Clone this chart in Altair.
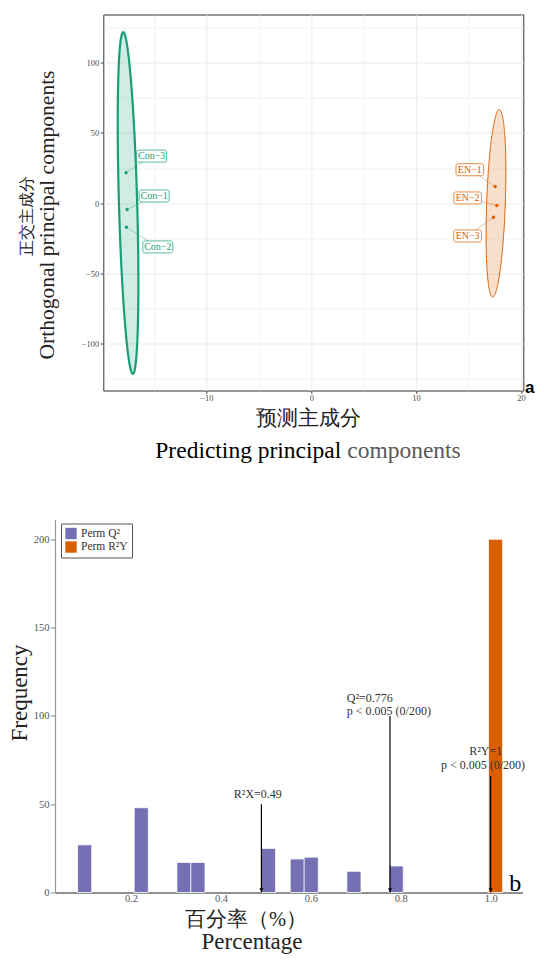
import altair as alt
import numpy as np
import pandas as pd

SERIF = "Liberation Serif"
GREEN = "#1B9E77"
ORANGE = "#D95F02"
PURPLE = "#7570B3"

# ---------------- panel a data ----------------
sample_label = ["Con−1", "Con−2", "Con−3", "EN−1", "EN−2", "EN−3"]
sample_group = ["Con", "Con", "Con", "EN", "EN", "EN"]
pred_comp = [-17.56, -17.63, -17.66, 17.54, 17.70, 17.38]
orth_comp = [-4.5, -17.2, 21.6, 11.9, -1.7, -10.0]
label_pred = [-14.98, -14.63, -15.22, 15.12, 14.91, 14.91]
label_orth = [5.1, -31.2, 33.5, 23.8, 3.7, -23.4]

ellipse_group = ["Con", "EN"]
ellipse_center_x = [-17.47, 17.615]
ellipse_center_y = [0.1, -0.1]
ellipse_major_x = [-0.46, 0.315]
ellipse_major_y = [121.7, 66.8]
ellipse_minor_x = [0.87, 0.89]

x_ticks_a = [-15, -10, -5, 0, 5, 10, 15, 20]
y_ticks_a = [-125, -100, -75, -50, -25, 0, 25, 50, 75, 100, 125]

# ---------------- panel b data ----------------
series_names = ["Perm Q²", "Perm R²Y"]
q2_bin_start = [0.081, 0.207, 0.302, 0.333, 0.490, 0.554, 0.585, 0.680, 0.774]
q2_count = [27, 48, 17, 17, 25, 19, 20, 12, 15]
r2y_bin_start = [0.995]
r2y_count = [200]
bin_width = 0.0315

arrow_x = [0.49, 0.776, 1.0]
arrow_top = [50, 100, 66]
note_text = ["R²X=0.49", "Q²=0.776", "p < 0.005 (0/200)", "R²Y=1", "p < 0.005 (0/200)"]
note_x = [0.482, 0.680, 0.680, 0.989, 0.983]
note_y = [55.6, 110.1, 103.0, 80.2, 72.2]
note_align = ["center", "left", "left", "center", "center"]

x_ticks_b = [0.2, 0.4, 0.6, 0.8, 1.0]
y_ticks_b = [0, 50, 100, 150, 200]


def cond(test, a, b):
    return {"condition": {"test": test, "value": a}, "value": b}


def txt(text, px, py, size, font=SERIF, color="#000000", angle=0, align="center",
        baseline="middle", weight="normal"):
    return alt.Chart(pd.DataFrame({"t": [text]})).mark_text(
        font=font, fontSize=size, color=color, angle=angle, align=align,
        baseline=baseline, fontWeight=weight
    ).encode(text="t:N", x=alt.value(px), y=alt.value(py))


# ================= panel a =================
t = np.linspace(0, np.pi, 181)
rows = []
for g, cx, cy, mx, my, w in zip(ellipse_group, ellipse_center_x, ellipse_center_y,
                                ellipse_major_x, ellipse_major_y, ellipse_minor_x):
    for ti in t:
        rows.append({
            "group": g,
            "y": cy + my * np.cos(ti),
            "xl": cx + mx * np.cos(ti) - w * np.sin(ti),
            "xr": cx + mx * np.cos(ti) + w * np.sin(ti),
        })
ell_df = pd.DataFrame(rows)

xsc_a = alt.Scale(domain=[-19.83, 20.22], nice=False, zero=False)
ysc_a = alt.Scale(domain=[-133.5, 134.4], nice=False, zero=False)
color_a = alt.Scale(domain=["Con", "EN"], range=[GREEN, ORANGE])

xaxis_a = alt.Axis(
    values=x_ticks_a, title=None, domain=False,
    labelExpr="datum.value % 10 === 0 ? datum.label : ''",
    tickColor=cond("datum.value % 10 === 0", "#444444", "transparent"),
    tickSize=3, labelPadding=0, labelFont=SERIF, labelFontSize=8.5,
    labelColor="#4d4d4d", labelOverlap=False, labelFlush=False,
    gridColor="#ebebeb", gridWidth=cond("datum.value % 10 === 0", 1.0, 0.6),
)
yaxis_a = alt.Axis(
    values=y_ticks_a, title=None, domain=False,
    labelExpr="datum.value % 50 === 0 ? datum.label : ''",
    tickColor=cond("datum.value % 50 === 0", "#444444", "transparent"),
    tickSize=3, labelPadding=1.5, labelFont=SERIF, labelFontSize=8.5,
    labelColor="#4d4d4d", labelOverlap=False, labelFlush=False,
    gridColor="#ebebeb", gridWidth=cond("datum.value % 50 === 0", 1.0, 0.6),
)


def ellipse_layer(g, width):
    return alt.Chart(ell_df).transform_filter(alt.datum.group == g).mark_area(
        orient="horizontal", fillOpacity=0.2, strokeWidth=width
    ).encode(
        y=alt.Y("y:Q", scale=ysc_a, axis=yaxis_a),
        x=alt.X("xl:Q", scale=xsc_a, axis=xaxis_a, stack=None),
        x2="xr:Q",
        fill=alt.Fill("group:N", scale=color_a, legend=None),
        stroke=alt.Stroke("group:N", scale=color_a, legend=None),
    )


pts = pd.DataFrame({
    "label": sample_label, "group": sample_group,
    "pred": pred_comp, "orth": orth_comp,
    "lx": label_pred, "ly": label_orth,
})
base_a = alt.Chart(pts)

segments = base_a.mark_rule(strokeWidth=0.7, opacity=0.55).encode(
    x=alt.X("pred:Q", scale=xsc_a, axis=xaxis_a),
    y=alt.Y("orth:Q", scale=ysc_a, axis=yaxis_a),
    x2="lx:Q", y2="ly:Q",
    color=alt.Color("group:N", scale=color_a, legend=None),
)
dots = base_a.mark_circle(size=12, opacity=1).encode(
    x=alt.X("pred:Q", scale=xsc_a, axis=xaxis_a),
    y=alt.Y("orth:Q", scale=ysc_a, axis=yaxis_a),
    color=alt.Color("group:N", scale=color_a, legend=None),
)


def box_layer(g, half_w):
    return base_a.transform_filter(alt.datum.group == g).mark_rect(
        fill="white", strokeWidth=0.9, strokeOpacity=0.8, cornerRadius=2,
        xOffset=-half_w, x2Offset=half_w, yOffset=-6, y2Offset=6,
    ).encode(
        x=alt.X("lx:Q", scale=xsc_a, axis=xaxis_a), x2="lx:Q",
        y=alt.Y("ly:Q", scale=ysc_a, axis=yaxis_a), y2="ly:Q",
        stroke=alt.Stroke("group:N", scale=color_a, legend=None),
    )


label_text = base_a.mark_text(font=SERIF, fontSize=10, baseline="middle").encode(
    x=alt.X("lx:Q", scale=xsc_a, axis=xaxis_a),
    y=alt.Y("ly:Q", scale=ysc_a, axis=yaxis_a),
    text="label:N",
    color=alt.Color("group:N", scale=color_a, legend=None),
)

panel_a = alt.layer(
    ellipse_layer("Con", 2.2),
    ellipse_layer("EN", 1.0),
    segments,
    dots,
    box_layer("Con", 15),
    box_layer("EN", 13.8),
    label_text,
    txt("正交主成分", -76.6, 201.8, 16, color="#222222", angle=270),
    txt("Orthogonal principal components", -49.0, 200.5, 21.5, color="#222222",
        angle=270, baseline="alphabetic"),
    txt("预测主成分", 204.7, 404.5, 20.5, color="#222222"),
    txt("Predicting principal", 238.0, 443.8, 23.5, align="right", baseline="alphabetic"),
    txt("components", 243.9, 443.8, 23.5, color="#595959", align="left",
        baseline="alphabetic"),
    txt("a", 421.7, 378.5, 17, font="Liberation Sans", align="left",
        baseline="alphabetic", weight="bold"),
).properties(
    width=420, height=376,
    view=alt.ViewBackground(stroke="#333333", strokeWidth=1),
)

# ================= panel b =================
xsc_b = alt.Scale(domain=[0.0309, 1.0707], range=[-48.3, 419.2], nice=False, zero=False)
ysc_b = alt.Scale(domain=[0, 211.2], nice=False, zero=False)

xaxis_b = alt.Axis(
    values=x_ticks_b, format=".1f", title=None, ticks=False, grid=False,
    domainColor="#222222", domainWidth=1.2, labelPadding=1, labelFont=SERIF,
    labelFontSize=10.5, labelColor="#555555", labelFlush=False,
)
yaxis_b = alt.Axis(
    values=y_ticks_b, title=None, grid=False, offset=48.3,
    domainColor="#999999", domainWidth=1.2, tickColor="#888888", tickSize=5,
    labelPadding=1, labelFont=SERIF, labelFontSize=10.5, labelColor="#555555",
    labelFlush=False,
)
legend_b = alt.Legend(
    title=None, orient="none", legendX=-42.3, legendY=4, direction="vertical",
    fillColor="white", strokeColor="#555555", padding=4, symbolType="square",
    symbolSize=130, symbolStrokeWidth=0, labelFont=SERIF, labelFontSize=11.5,
    labelColor="#333333", labelOffset=4, rowPadding=1.5,
)

bars_df = pd.DataFrame({
    "start": q2_bin_start + r2y_bin_start,
    "count": q2_count + r2y_count,
    "series": [series_names[0]] * len(q2_count) + [series_names[1]] * len(r2y_count),
})
bars = alt.Chart(bars_df).transform_calculate(
    end=f"datum.start + {bin_width}", base="0"
).mark_rect(stroke="white", strokeWidth=0.8).encode(
    x=alt.X("start:Q", scale=xsc_b, axis=xaxis_b), x2="end:Q",
    y=alt.Y("count:Q", scale=ysc_b, axis=yaxis_b), y2="base:Q",
    color=alt.Color("series:N", scale=alt.Scale(domain=series_names,
                                                 range=[PURPLE, ORANGE]),
                    legend=legend_b),
)

arr_df = pd.DataFrame({"ax": arrow_x, "top": arrow_top})
arrows = alt.Chart(arr_df).transform_calculate(base="0").mark_rule(
    color="black", strokeWidth=1.2
).encode(
    x=alt.X("ax:Q", scale=xsc_b, axis=xaxis_b),
    y=alt.Y("top:Q", scale=ysc_b, axis=yaxis_b), y2="base:Q",
)
heads = alt.Chart(arr_df).transform_calculate(base="0").mark_point(
    shape="triangle-down", filled=True, size=16, color="black", opacity=1, yOffset=-2.5
).encode(
    x=alt.X("ax:Q", scale=xsc_b, axis=xaxis_b),
    y=alt.Y("base:Q", scale=ysc_b, axis=yaxis_b),
)

notes_df = pd.DataFrame({"text": note_text, "x": note_x, "y": note_y, "align": note_align})


def notes_layer(al):
    return alt.Chart(notes_df).transform_filter(alt.datum.align == al).mark_text(
        font=SERIF, fontSize=12, color="#333333", align=al, baseline="middle"
    ).encode(
        x=alt.X("x:Q", scale=xsc_b, axis=xaxis_b),
        y=alt.Y("y:Q", scale=ysc_b, axis=yaxis_b),
        text="text:N",
    )


panel_b = alt.layer(
    bars,
    arrows,
    heads,
    notes_layer("center"),
    notes_layer("left"),
    txt("Frequency", -76.8, 173.5, 23, color="#222222", angle=270, baseline="alphabetic"),
    txt("百分率（%）", 142.7, 400.0, 20.5, color="#222222"),
    txt("Percentage", 148.7, 429.5, 23, color="#222222", baseline="alphabetic"),
    txt("b", 406.0, 371.2, 24, align="left", baseline="alphabetic"),
).properties(width=419, height=373)

# origin of panel a at page (103.3, 14.5); svg is 528 x 946
chart = alt.vconcat(panel_a, panel_b, spacing=129, bounds="flush").resolve_scale(
    color="independent", fill="independent", stroke="independent"
).properties(
    autosize=alt.AutoSizeParams(type="none"),
    padding={"left": 95.3, "top": 6.5, "right": 432.7, "bottom": 939.5},
).configure_view(stroke="transparent")

chart.save("out.html", embed_options={"renderer": "svg", "actions": False})
